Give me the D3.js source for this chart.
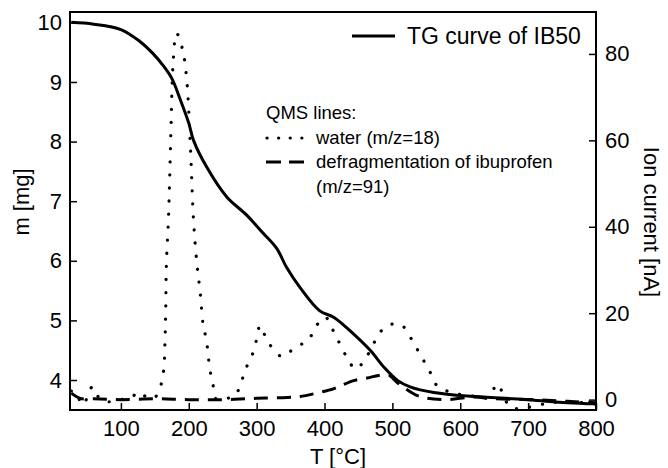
<!DOCTYPE html>
<html>
<head>
<meta charset="utf-8">
<script src="https://cdn.jsdelivr.net/npm/d3@7"></script>
<style>
  body { margin: 0; background: #fff; }
  svg, svg text { font-family: "Liberation Sans", Arial, sans-serif; }
</style>
</head>
<body>
<svg id="chart"></svg>
<script>
// TG curve of IB50 (left axis, mg)
const tgTemp = [27, 60, 100, 128, 147, 162, 175, 187, 200, 207, 226, 256, 285, 309, 330, 344, 364, 393, 414, 443, 468, 488, 508, 527, 561, 610, 659, 709, 758, 800];
const tgMass = [10.0, 9.97, 9.88, 9.68, 9.48, 9.28, 9.06, 8.72, 8.31, 8.02, 7.58, 7.07, 6.77, 6.47, 6.2, 5.89, 5.55, 5.16, 5.05, 4.77, 4.49, 4.21, 3.99, 3.88, 3.79, 3.73, 3.70, 3.66, 3.62, 3.60];

// QMS water m/z=18 (right axis, nA)
const waterTemp = [27, 36, 41, 50, 58, 70, 85, 100, 115, 127, 140, 150, 159, 163, 165, 166, 167, 170, 172, 174, 177, 182, 191, 197, 202, 207, 212, 217, 221, 226, 231, 236, 240, 255, 268, 278, 285, 295, 300, 305, 317, 337, 357, 376, 388, 401, 414, 433, 446, 463, 475, 490, 512, 529, 541, 554, 566, 591, 620, 640, 655, 662, 674, 699, 730, 760, 800];
const waterIon = [2.0, 1.5, -1.2, 0.2, 3.0, 0.0, -0.5, 0.0, 0.5, 1.8, 0.3, 0.5, 3.4, 6.7, 13.7, 20.6, 31.4, 41.6, 52.0, 64.0, 78.2, 84.8, 80.9, 74.0, 60.0, 41.6, 31.4, 24.5, 17.5, 13.7, 7.1, 3.2, 0.2, 0.3, 0.9, 4.4, 7.5, 11.0, 14.0, 17.1, 13.3, 10.0, 12.1, 13.8, 17.1, 19.1, 15.6, 9.8, 7.1, 10.2, 13.7, 16.9, 17.4, 13.8, 10.4, 6.9, 3.2, 1.5, 0.8, 0.5, 3.6, 1.7, -1.8, -1.8, -0.8, -0.5, -1.0];

// QMS defragmentation of ibuprofen m/z=91 (right axis, nA)
const ibuTemp = [27, 40, 60, 100, 150, 200, 250, 300, 345, 364, 388, 413, 424, 443, 463, 480, 495, 504, 516, 541, 576, 620, 650, 709, 758, 800];
const ibuIon = [1.5, 0.3, 0.2, 0.0, 0.2, 0.0, 0.0, 0.3, 0.5, 0.7, 1.5, 2.5, 3.2, 4.4, 5.0, 5.6, 5.7, 4.4, 2.9, 0.7, 0.0, 0.6, 0.2, 0.0, -0.4, -0.7];

const tempTicks = [100, 200, 300, 400, 500, 600, 700, 800];
const massTicks = [4, 5, 6, 7, 8, 9, 10];
const ionTicks = [0, 20, 40, 60, 80];

const width = 668, height = 468;
const plot = { left: 70, right: 596, top: 12, bottom: 410 };
const tickLen = 7;

const svg = d3.select("#chart").attr("width", width).attr("height", height);

const x = d3.scaleLinear().domain([25, 800]).range([plot.left, plot.right]);
const yMass = d3.scaleLinear().domain([3.497, 10.174]).range([plot.bottom, plot.top]);
const yIon = d3.scaleLinear().domain([-2.4, 89.7]).range([plot.bottom, plot.top]);

// curves
const curve = d3.curveCatmullRom.alpha(0.5);
const waterLine = d3.line().x(d => x(d[0])).y(d => yIon(d[1])).curve(curve);
const ibuLine = d3.line().x(d => x(d[0])).y(d => yIon(d[1])).curve(curve);
const tgLine = d3.line().x(d => x(d[0])).y(d => yMass(d[1])).curve(curve);

svg.append("path")
  .attr("d", waterLine(d3.zip(waterTemp, waterIon)))
  .attr("fill", "none").attr("stroke", "#000")
  .attr("stroke-width", 3.2).attr("stroke-linecap", "round")
  .attr("stroke-dasharray", "0.1,13");

svg.append("path")
  .attr("d", ibuLine(d3.zip(ibuTemp, ibuIon)))
  .attr("fill", "none").attr("stroke", "#000")
  .attr("stroke-width", 3).attr("stroke-dasharray", "14,9");

svg.append("path")
  .attr("d", tgLine(d3.zip(tgTemp, tgMass)))
  .attr("fill", "none").attr("stroke", "#000")
  .attr("stroke-width", 3);

// frame
svg.append("rect")
  .attr("x", plot.left).attr("y", plot.top)
  .attr("width", plot.right - plot.left).attr("height", plot.bottom - plot.top)
  .attr("fill", "none").attr("stroke", "#000").attr("stroke-width", 2);

// axes with inward ticks
const fmt = d3.format("d");
const axisBottom = svg.append("g")
  .attr("transform", `translate(0,${plot.bottom})`)
  .call(d3.axisBottom(x).tickValues(tempTicks).tickFormat(fmt).tickSizeInner(-tickLen).tickSizeOuter(0).tickPadding(10));

const axisLeft = svg.append("g")
  .attr("transform", `translate(${plot.left},0)`)
  .call(d3.axisLeft(yMass).tickValues(massTicks).tickFormat(fmt).tickSizeInner(-tickLen).tickSizeOuter(0).tickPadding(8));

const axisRight = svg.append("g")
  .attr("transform", `translate(${plot.right},0)`)
  .call(d3.axisRight(yIon).tickValues(ionTicks).tickFormat(fmt).tickSizeInner(-tickLen).tickSizeOuter(0).tickPadding(9));

[axisBottom, axisLeft, axisRight].forEach(a => {
  a.attr("font-family", null).attr("font-size", null);
  a.select(".domain").remove();
  a.selectAll(".tick line").attr("stroke", "#000").attr("stroke-width", 1.5);
  a.selectAll(".tick text").attr("fill", "#000").style("font-size", "22px");
});

// axis titles
svg.append("text")
  .attr("x", 338).attr("y", 464)
  .attr("text-anchor", "middle")
  .style("font-size", "22px")
  .text("T [°C]");

svg.append("text")
  .attr("transform", "translate(29,202) rotate(-90)")
  .attr("text-anchor", "middle")
  .style("font-size", "22px")
  .text("m [mg]");

svg.append("text")
  .attr("transform", "translate(644,222) rotate(90)")
  .attr("text-anchor", "middle")
  .style("font-size", "22px")
  .text("Ion current [nA]");

// legend: TG curve
svg.append("line")
  .attr("x1", 352).attr("x2", 395).attr("y1", 36).attr("y2", 36)
  .attr("stroke", "#000").attr("stroke-width", 3);
svg.append("text")
  .attr("x", 407).attr("y", 44)
  .style("font-size", "23px")
  .text("TG curve of IB50");

// legend: QMS lines
const qms = svg.append("g").style("font-size", "18.5px");
qms.append("text").attr("x", 266).attr("y", 119).text("QMS lines:");
qms.append("line")
  .attr("x1", 267).attr("x2", 302).attr("y1", 138).attr("y2", 138)
  .attr("stroke", "#000").attr("stroke-width", 3.2)
  .attr("stroke-linecap", "round").attr("stroke-dasharray", "0.1,11.5");
qms.append("text").attr("x", 316).attr("y", 144).text("water (m/z=18)");
qms.append("line")
  .attr("x1", 266).attr("x2", 304).attr("y1", 162).attr("y2", 162)
  .attr("stroke", "#000").attr("stroke-width", 3.2)
  .attr("stroke-dasharray", "15,8");
qms.append("text").attr("x", 316).attr("y", 168).text("defragmentation of ibuprofen");
qms.append("text").attr("x", 316).attr("y", 193).text("(m/z=91)");
</script>
</body>
</html>
